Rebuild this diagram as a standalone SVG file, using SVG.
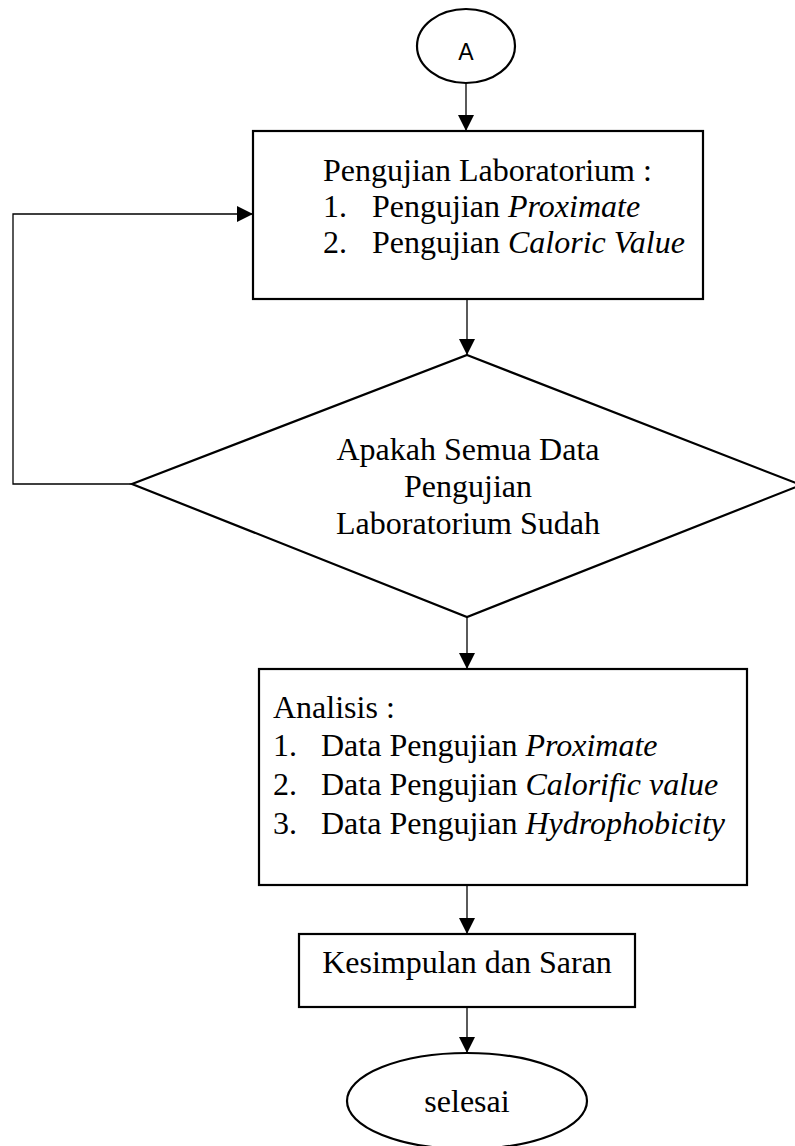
<svg xmlns="http://www.w3.org/2000/svg" width="795" height="1146" viewBox="0 0 795 1146">
<style>
.shape{fill:#fff;stroke:#000;stroke-width:2.2}
.conn{fill:none;stroke:#000;stroke-width:1.3}
.t{font-family:"Liberation Serif","Times New Roman",serif;font-size:32px;fill:#000}
.i{font-style:italic}
.s{font-family:"Liberation Sans",Arial,sans-serif;font-size:23px;fill:#000}
</style>
<defs>
<marker id="ah" viewBox="0 0 16 16" refX="16" refY="8" markerWidth="16" markerHeight="16" markerUnits="userSpaceOnUse" orient="auto">
<path d="M0,0 L16,8 L0,16 Z" fill="#000"/>
</marker>
</defs>
<rect width="795" height="1146" fill="#fff"/>
<g id="connectors">
<line class="conn" x1="466" y1="83" x2="466" y2="131" marker-end="url(#ah)"/>
<line class="conn" x1="467" y1="299" x2="467" y2="355" marker-end="url(#ah)"/>
<polyline class="conn" points="132,484 13,484 13,214 253,214" marker-end="url(#ah)"/>
<line class="conn" x1="467" y1="617" x2="467" y2="669" marker-end="url(#ah)"/>
<line class="conn" x1="467" y1="885" x2="467" y2="934" marker-end="url(#ah)"/>
<line class="conn" x1="467" y1="1007" x2="467" y2="1053" marker-end="url(#ah)"/>
</g>
<g id="start">
<ellipse class="shape" cx="466" cy="46" rx="49" ry="37"/>
<text class="s" x="466" y="60" text-anchor="middle">A</text>
</g>
<g id="lab">
<rect class="shape" x="253" y="131" width="450" height="168"/>
<text class="t" x="323" y="181">Pengujian Laboratorium :</text>
<text class="t" x="323" y="217">1.</text>
<text class="t" x="372" y="217">Pengujian <tspan class="i">Proximate</tspan></text>
<text class="t" x="323" y="253">2.</text>
<text class="t" x="372" y="253">Pengujian <tspan class="i">Caloric Value</tspan></text>
</g>
<g id="decision">
<polygon class="shape" points="467,355 801,485 467,617 132,484"/>
<text class="t" x="468" y="460" text-anchor="middle">Apakah Semua Data</text>
<text class="t" x="468" y="497" text-anchor="middle">Pengujian</text>
<text class="t" x="468" y="534" text-anchor="middle">Laboratorium Sudah</text>
</g>
<g id="analisis">
<rect class="shape" x="259" y="669" width="488" height="216"/>
<text class="t" x="273" y="718">Analisis :</text>
<text class="t" x="273" y="756">1.</text>
<text class="t" x="321" y="756">Data Pengujian <tspan class="i">Proximate</tspan></text>
<text class="t" x="273" y="795">2.</text>
<text class="t" x="321" y="795">Data Pengujian <tspan class="i">Calorific value</tspan></text>
<text class="t" x="273" y="834">3.</text>
<text class="t" x="321" y="834">Data Pengujian <tspan class="i">Hydrophobicity</tspan></text>
</g>
<g id="kesimpulan">
<rect class="shape" x="299" y="934" width="336" height="73"/>
<text class="t" x="467" y="973" text-anchor="middle">Kesimpulan dan Saran</text>
</g>
<g id="selesai">
<ellipse class="shape" cx="467" cy="1101" rx="120" ry="48"/>
<text class="t" x="467" y="1112" text-anchor="middle">selesai</text>
</g>
</svg>
